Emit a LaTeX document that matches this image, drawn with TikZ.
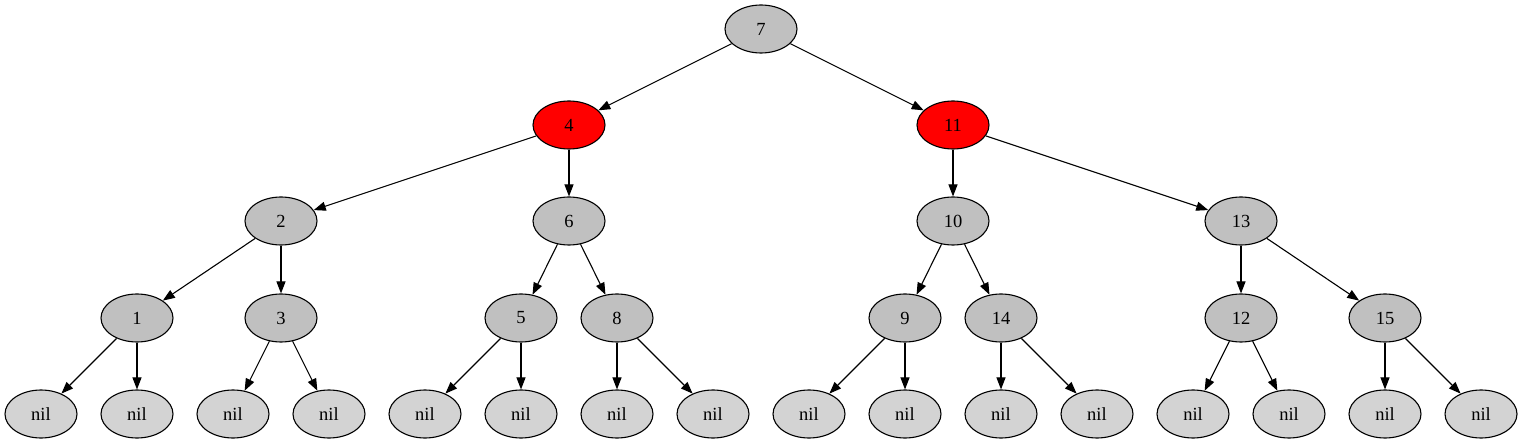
\documentclass[tikz,border=0pt]{standalone}
\usepackage{fontspec}
\setmainfont{Liberation Serif}
\usetikzlibrary{shapes.geometric,arrows.meta}
\definecolor{nodegray}{HTML}{C0C0C0}
\definecolor{nilgray}{HTML}{D3D3D3}
\begin{document}
\begin{tikzpicture}[x=1pt,y=-1pt,
  tn/.style={ellipse,draw=black,line width=1.1pt,fill=nodegray,minimum width=72pt,minimum height=48pt,inner sep=0pt,font=\fontsize{18.5}{20}\selectfont},
  rn/.style={tn,fill=red},
  nn/.style={tn,fill=nilgray},
  edge/.style={draw=black,line width=1.1pt,-{Triangle[length=12pt,width=9pt]}}]
\useasboundingbox (0,0) rectangle (1523,443);
\node[tn] (n7) at (761,29) {7};
\node[rn] (n4) at (569,125) {4};
\node[rn] (n11) at (953,125) {11};
\node[tn] (n2) at (281,221) {2};
\node[tn] (n6) at (569,221) {6};
\node[tn] (n10) at (953,221) {10};
\node[tn] (n13) at (1241,221) {13};
\node[tn] (n1) at (137,318) {1};
\node[tn] (n3) at (281,318) {3};
\node[tn] (n5) at (521,318) {5};
\node[tn] (n8) at (617,318) {8};
\node[tn] (n9) at (905,318) {9};
\node[tn] (n14) at (1001,318) {14};
\node[tn] (n12) at (1241,318) {12};
\node[tn] (n15) at (1385,318) {15};
\foreach \i/\x in {1/41,2/137,3/233,4/329,5/425,6/521,7/617,8/713,9/809,10/905,11/1001,12/1097,13/1193,14/1289,15/1385,16/1481}
  \node[nn] (nil\i) at (\x,414) {nil};
\draw[edge] (n7) -- (n4);
\draw[edge] (n7) -- (n11);
\draw[edge] (n4) -- (n2);
\draw[edge] (n4) -- (n6);
\draw[edge] (n11) -- (n10);
\draw[edge] (n11) -- (n13);
\draw[edge] (n2) -- (n1);
\draw[edge] (n2) -- (n3);
\draw[edge] (n6) -- (n5);
\draw[edge] (n6) -- (n8);
\draw[edge] (n10) -- (n9);
\draw[edge] (n10) -- (n14);
\draw[edge] (n13) -- (n12);
\draw[edge] (n13) -- (n15);
\draw[edge] (n1) -- (nil1);
\draw[edge] (n1) -- (nil2);
\draw[edge] (n3) -- (nil3);
\draw[edge] (n3) -- (nil4);
\draw[edge] (n5) -- (nil5);
\draw[edge] (n5) -- (nil6);
\draw[edge] (n8) -- (nil7);
\draw[edge] (n8) -- (nil8);
\draw[edge] (n9) -- (nil9);
\draw[edge] (n9) -- (nil10);
\draw[edge] (n14) -- (nil11);
\draw[edge] (n14) -- (nil12);
\draw[edge] (n12) -- (nil13);
\draw[edge] (n12) -- (nil14);
\draw[edge] (n15) -- (nil15);
\draw[edge] (n15) -- (nil16);
\end{tikzpicture}
\end{document}
